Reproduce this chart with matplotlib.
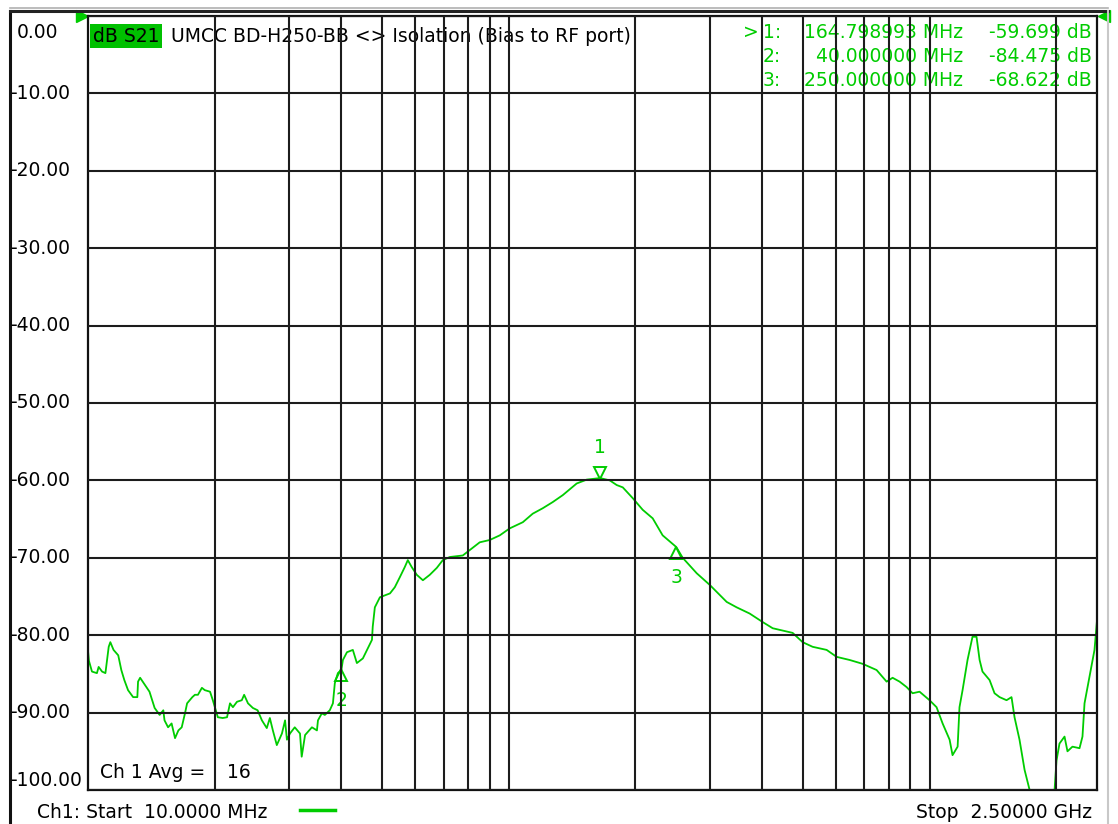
import matplotlib.pyplot as plt
from matplotlib import transforms
from matplotlib.lines import Line2D
from matplotlib.ticker import FixedLocator, NullLocator

# S21 trace
freq_mhz = [10.0, 10.05, 10.22, 10.5, 10.6, 10.8, 11.0, 11.2, 11.3, 11.5,
            11.8, 12.0, 12.2, 12.45, 12.8, 13.1, 13.15, 13.3, 13.65, 14.0,
            14.4, 14.8, 15.1, 15.2, 15.5, 15.8, 16.1, 16.4, 16.7, 17.0,
            17.2, 17.7, 17.95, 18.25, 18.65, 18.95, 19.5, 19.8, 20.35, 20.9,
            21.4, 21.75, 22.1, 22.6, 23.2, 23.5, 24.0, 24.65, 25.3, 25.9,
            26.6, 27.05, 27.5, 28.1, 28.9, 29.4, 29.7, 30.2, 31.0, 31.9,
            32.2, 32.8, 33.3, 34.05, 35.0, 35.2, 35.95, 36.55, 37.55, 38.2,
            38.6, 39.25, 40.0, 40.35, 41.25, 42.6, 43.55, 45.0, 47.3, 47.5,
            48.05, 49.4, 52.2, 53.6, 55.1, 56.6, 57.55, 58.8, 60.45, 62.5,
            64.9, 67.45, 69.7, 72.4, 77.75, 80.8, 85.3, 90.1, 95.2, 100.5,
            108.0, 114.0, 120.4, 127.2, 134.4, 145.0, 153.2, 164.8, 173.8, 180.5,
            186.6, 197.1, 208.1, 219.8, 232.1, 250.0, 259.0, 279.7, 300.3, 329.5,
            348.0, 373.6, 401.2, 423.8, 472.7, 499.3, 527.4, 569.4, 601.4, 645.7,
            693.4, 748.4, 790.6, 816.9, 848.8, 881.9, 911.3, 946.8, 1000, 1039,
            1074, 1116, 1134, 1166, 1178, 1198, 1231, 1265, 1293, 1315,
            1336, 1389, 1427, 1467, 1524, 1566, 1592, 1636, 1682, 1729,
            1982, 2003, 2036, 2093, 2127, 2186, 2272, 2309, 2335, 2399,
            2466, 2500]
s21_db = [-82.0, -83.3, -84.7, -84.9, -84.1, -84.7, -84.9, -81.5, -80.9, -81.9,
          -82.6, -84.5, -85.8, -87.1, -88.0, -88.0, -86.0, -85.5, -86.4, -87.3,
          -89.4, -90.3, -89.7, -91.0, -91.9, -91.4, -93.3, -92.3, -91.9, -90.1,
          -88.8, -88.0, -87.7, -87.7, -86.8, -87.1, -87.3, -88.4, -90.6, -90.7,
          -90.6, -88.8, -89.3, -88.6, -88.4, -87.7, -88.8, -89.4, -89.7, -91.0,
          -92.0, -90.7, -92.3, -94.2, -92.7, -91.0, -93.5, -92.7, -91.9, -92.7,
          -95.7, -92.9, -92.5, -91.9, -92.3, -91.0, -90.1, -90.3, -89.7, -88.8,
          -86.2, -84.9, -84.5, -83.2, -82.2, -81.9, -83.6, -83.0, -80.6, -78.9,
          -76.4, -75.1, -74.6, -73.8, -72.5, -71.2, -70.3, -71.2, -72.2, -72.9,
          -72.2, -71.3, -70.3, -69.9, -69.7, -69.0, -68.0, -67.7, -67.1, -66.2,
          -65.4, -64.3, -63.6, -62.8, -61.9, -60.4, -59.9, -59.7, -60.0, -60.6,
          -60.9, -62.3, -63.8, -64.9, -67.1, -68.6, -70.0, -72.0, -73.5, -75.7,
          -76.4, -77.2, -78.3, -79.1, -79.7, -80.9, -81.5, -81.9, -82.8, -83.2,
          -83.7, -84.5, -86.0, -85.5, -86.0, -86.7, -87.5, -87.3, -88.4, -89.3,
          -91.4, -93.5, -95.5, -94.4, -89.3, -87.1, -83.2, -80.2, -80.2, -83.2,
          -84.7, -85.8, -87.5, -88.0, -88.4, -88.0, -90.6, -93.5, -97.4, -100.0,
          -100.0, -96.2, -94.0, -93.1, -95.0, -94.4, -94.6, -93.1, -88.8, -85.4,
          -81.9, -78.1]

# marker table
marker_ids = ['1', '2', '3']
marker_freq = [164.798993, 40.0, 250.0]
marker_db = [-59.699, -84.475, -68.622]
marker_freq_txt = ['164.798993', '40.000000', '250.000000']
marker_db_txt = ['-59.699', '-84.475', '-68.622']

y_ticks = [0, -10, -20, -30, -40, -50, -60, -70, -80, -90, -100]
y_tick_labels = ['0.00', '-10.00', '-20.00', '-30.00', '-40.00', '-50.00',
                 '-60.00', '-70.00', '-80.00', '-90.00', '-100.00']
x_grid = [20, 30, 40, 50, 60, 70, 80, 90, 100,
          200, 300, 400, 500, 600, 700, 800, 900, 1000, 2000]

title = 'UMCC BD-H250-BB <> Isolation (Bias to RF port)'
trace_name = 'dB S21'
start_label = 'Ch1: Start  10.0000 MHz'
stop_label = 'Stop  2.50000 GHz'
avg_label = 'Ch 1 Avg ='
avg_count = '16'

GREEN = '#00cc00'
BOX_GREEN = '#00c000'
W, H = 1118, 824

plt.rcParams['font.family'] = 'DejaVu Sans'
plt.rcParams['font.size'] = 13.5

fig = plt.figure(figsize=(W / 100, H / 100), dpi=100)
fig.patch.set_facecolor('white')


def fx(x):
    return x / W


def fy(y):
    return 1 - y / H


# outer frame of the screen
fig.add_artist(Line2D([fx(10), fx(10)], [fy(11), 0], color='#111111', lw=2.2))
fig.add_artist(Line2D([fx(10), fx(1108)], [fy(11), fy(11)], color='#222222', lw=2.2))
fig.add_artist(Line2D([fx(10), fx(1108)], [fy(8), fy(8)], color='#b0b0b0', lw=1.2))
fig.add_artist(Line2D([fx(1108), fx(1108)], [fy(11), 0], color='#c8c8c8', lw=1.5))

ax = fig.add_axes([fx(88), fy(790), fx(1097) - fx(88), fy(16) - fy(790)])
ax.set_xscale('log')
ax.set_xlim(10, 2500)
ax.set_ylim(-100, 0)
ax.xaxis.set_major_locator(FixedLocator(x_grid))
ax.xaxis.set_minor_locator(NullLocator())
ax.yaxis.set_major_locator(FixedLocator(y_ticks))
ax.tick_params(length=0, labelbottom=False, labelleft=False)
ax.grid(True, color='#1c1c1c', lw=1.5)
ax.set_axisbelow(False)
for sp in ax.spines.values():
    sp.set_color('#111111')
    sp.set_linewidth(1.6)

ax.plot(freq_mhz, s21_db, color=GREEN, lw=1.3, zorder=1.5)

# markers: 1 sits above the trace, the others below
for i, (mid, f, d) in enumerate(zip(marker_ids, marker_freq, marker_db)):
    up = i == 0
    off = transforms.offset_copy(ax.transData, fig, y=4 if up else -4, units='points')
    ax.plot([f], [d], marker='v' if up else '^', ms=8, mfc='none', mec=GREEN,
            mew=1.4, transform=off, zorder=1.6)
    ax.annotate(mid, (f, d), xytext=(0, 22 if up else -22), textcoords='offset points',
                ha='center', va='center', color=GREEN, zorder=1.6)

# reference level flags
ax.plot([0], [1], marker='>', ms=9, color=GREEN, transform=transforms.offset_copy(
    ax.transAxes, fig, x=-4, y=0, units='points'), clip_on=False)
ax.plot([1], [1], marker='<', ms=9, color=GREEN, transform=transforms.offset_copy(
    ax.transAxes, fig, x=5, y=0, units='points'), clip_on=False)

# y labels, left aligned against the frame
for v, lab in zip(y_ticks, y_tick_labels):
    if v == 0:
        fig.text(fx(17), fy(32), lab, ha='left', va='center')
    elif v == -100:
        fig.text(fx(10), fy(780), lab, ha='left', va='center')
    else:
        yy = ax.transData.transform((10, v))[1] / H
        fig.text(fx(10), yy, lab, ha='left', va='center')

# header
ax.text(fx(93), fy(36), trace_name, transform=fig.transFigure, ha='left', va='center',
        zorder=1, bbox=dict(boxstyle='square,pad=0.15', fc=BOX_GREEN, ec='none'))
ax.text(fx(171), fy(36), title, transform=fig.transFigure, ha='left', va='center', zorder=1)

# marker readout
rows_y = [32, 56, 80]
for i, (mid, ft, dt) in enumerate(zip(marker_ids, marker_freq_txt, marker_db_txt)):
    y = fy(rows_y[i])
    if i == 0:
        ax.text(fx(743), y, '>', transform=fig.transFigure, ha='left', va='center',
                color=GREEN, zorder=1)
    ax.text(fx(763), y, mid + ':', transform=fig.transFigure, ha='left', va='center',
            color=GREEN, zorder=1)
    ax.text(fx(963), y, ft + ' MHz', transform=fig.transFigure, ha='right', va='center',
            color=GREEN, zorder=1)
    ax.text(fx(1092), y, dt + ' dB', transform=fig.transFigure, ha='right', va='center',
            color=GREEN, zorder=1)

ax.text(fx(100), fy(773), avg_label, transform=fig.transFigure, ha='left', va='center', zorder=1)
ax.text(fx(227), fy(773), avg_count, transform=fig.transFigure, ha='left', va='center', zorder=1)

# footer
fig.text(fx(37), fy(812), start_label, ha='left', va='center')
fig.add_artist(Line2D([fx(300), fx(335)], [fy(810), fy(810)], color=GREEN, lw=2.5))
fig.text(fx(1092), fy(812), stop_label, ha='right', va='center')

fig.savefig('out.png', dpi=100)
